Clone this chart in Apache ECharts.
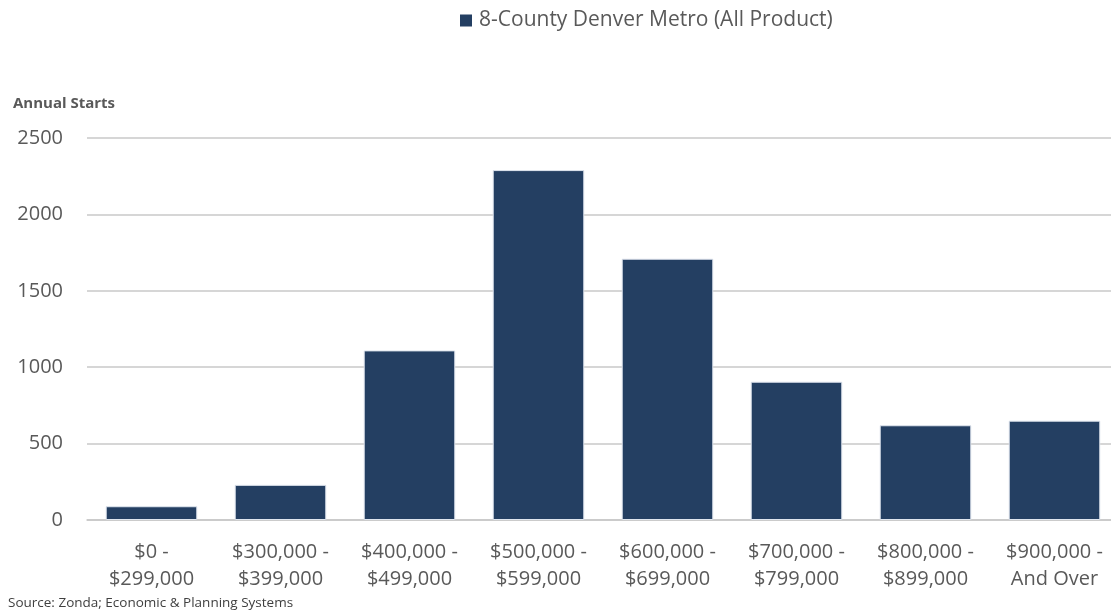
<!DOCTYPE html>
<html>
<head>
<meta charset="utf-8">
<style>
  html, body { margin: 0; padding: 0; background: #ffffff; overflow: hidden; }
  #chart { width: 1119px; height: 613px; }
</style>
<script src="https://cdn.jsdelivr.net/npm/echarts@6/dist/echarts.min.js"></script>
</head>
<body>
<div id="chart"></div>
<script>
// Annual new-home starts by price band
const seriesName = '8-County Denver Metro (All Product)';
const priceBands = [
  '$0 -\n$299,000',
  '$300,000 -\n$399,000',
  '$400,000 -\n$499,000',
  '$500,000 -\n$599,000',
  '$600,000 -\n$699,000',
  '$700,000 -\n$799,000',
  '$800,000 -\n$899,000',
  '$900,000 -\nAnd Over'
];
const annualStarts = [90, 230, 1110, 2290, 1710, 905, 620, 650];
const yTicks = { min: 0, max: 2500, interval: 500 };

const textColor = '#595959';
const fontFamily = '"Open Sans", "Noto Sans", sans-serif';

const chart = echarts.init(document.getElementById('chart'), null, { renderer: 'canvas' });

chart.setOption({
  backgroundColor: '#ffffff',
  animation: false,
  textStyle: { fontFamily: fontFamily },
  title: [
    {
      text: 'Annual Starts',
      left: 13, top: 96, padding: 0,
      textStyle: { fontSize: 15, fontWeight: 'bold', color: textColor, fontFamily: fontFamily }
    },
    {
      text: 'Source: Zonda; Economic & Planning Systems',
      left: 8, top: 596, padding: 0,
      textStyle: { fontSize: 13.5, fontWeight: 'normal', color: '#404040', fontFamily: fontFamily }
    }
  ],
  legend: {
    left: 455, top: 5,
    icon: 'rect',
    itemWidth: 12, itemHeight: 12,
    itemGap: 8,
    itemStyle: { borderWidth: 0 },
    textStyle: { fontSize: 21, color: textColor, fontFamily: fontFamily, padding: [0, 0, 0, 2] },
    data: [seriesName]
  },
  grid: { left: 87, top: 138, right: 0, height: 382, containLabel: false },
  xAxis: {
    type: 'category',
    data: priceBands,
    axisLine: { show: true, lineStyle: { color: '#c8c8c8', width: 1.5 } },
    axisTick: { show: false },
    axisLabel: {
      interval: 0,
      margin: 19,
      fontSize: 20,
      lineHeight: 27,
      color: textColor,
      fontFamily: fontFamily
    }
  },
  yAxis: {
    type: 'value',
    min: yTicks.min, max: yTicks.max, interval: yTicks.interval,
    axisLine: { show: false },
    axisTick: { show: false },
    splitLine: { lineStyle: { color: '#c8c8c8', width: 1.5 } },
    axisLabel: {
      fontSize: 20, color: textColor, margin: 24, fontFamily: fontFamily,
      formatter: function (v) { return String(v); }
    }
  },
  series: [
    {
      name: seriesName,
      type: 'bar',
      data: annualStarts,
      barWidth: '71%',
      itemStyle: { color: '#243f62', borderColor: '#dfe5ee', borderWidth: 1 }
    }
  ]
});
</script>
</body>
</html>
